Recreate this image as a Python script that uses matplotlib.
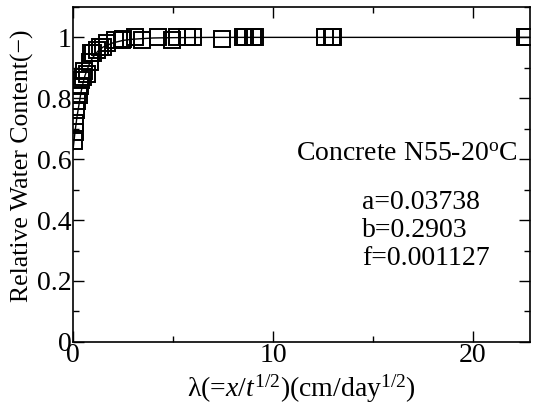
import matplotlib
matplotlib.use('Agg')
from matplotlib import pyplot as plt
from matplotlib.ticker import MultipleLocator, FuncFormatter

# measured points: lambda (cm/day^1/2) and relative water content
lam = [0.05, 0.08, 0.1, 0.15, 0.2, 0.3, 0.35, 0.4, 0.5, 0.55, 0.7, 0.85, 0.9,
       1.0, 1.2, 1.35, 1.5, 1.7, 2.1, 2.45, 2.5, 3.1, 3.45, 4.25, 4.95, 5.2,
       5.7, 6.0, 7.45, 8.5, 8.6, 9.0, 9.1, 12.6, 12.95, 13.0, 22.6, 22.7]
rwc = [0.66, 0.69, 0.72, 0.76, 0.79, 0.81, 0.84, 0.86, 0.87, 0.89, 0.88, 0.92,
       0.95, 0.95, 0.96, 0.97, 0.97, 0.98, 0.99, 0.99, 0.995, 1.0, 0.99, 1.0,
       0.99, 1.0, 1.0, 1.0, 0.995, 1.0, 1.0, 1.0, 1.0, 1.0, 1.0, 1.0, 1.0, 1.0]

# fitted curve
fit_lam = [0.0, 0.1, 0.2, 0.3, 0.4, 0.5, 0.6, 0.8, 1.0, 1.25, 1.5, 2.0, 2.5,
           3.0, 4.0, 5.0, 7.0, 10.0, 15.0, 22.85]
fit_rwc = [0.63, 0.69, 0.74, 0.78, 0.82, 0.85, 0.875, 0.91, 0.935, 0.955,
           0.968, 0.982, 0.99, 0.994, 0.998, 0.999, 1.0, 1.0, 1.0, 1.0]

params = ['a=0.03738', 'b=0.2903', 'f=0.001127']

plt.rcParams['font.family'] = 'Liberation Serif'
plt.rcParams['mathtext.fontset'] = 'custom'
plt.rcParams['mathtext.rm'] = 'Liberation Serif'
plt.rcParams['mathtext.it'] = 'Liberation Serif:italic'
plt.rcParams['font.size'] = 20

fig = plt.figure(figsize=(5.33, 4.07), dpi=100)
ax = fig.add_axes([0.137, 0.160, 0.857, 0.823])

ax.plot(fit_lam, fit_rwc, color='black', linewidth=1.0, zorder=2)
ax.plot(lam, rwc, linestyle='none', marker='s', markersize=11,
        markerfacecolor='none', markeredgecolor='black', markeredgewidth=1.4,
        zorder=3)

ax.set_xlim(0, 22.85)
ax.set_ylim(0, 1.1)
ax.xaxis.set_major_locator(MultipleLocator(10))
ax.xaxis.set_minor_locator(MultipleLocator(5))
ax.yaxis.set_major_locator(MultipleLocator(0.2))
ax.yaxis.set_minor_locator(MultipleLocator(0.1))
ax.yaxis.set_major_formatter(FuncFormatter(lambda v, p: '%g' % round(v, 2)))
ax.tick_params(which='both', direction='in', top=True, right=True, width=1.0)
ax.tick_params(which='major', length=8)
ax.tick_params(which='minor', length=4)
ax.tick_params(axis='y', which='major', pad=1)
ax.tick_params(axis='x', which='major', pad=1)
for s in ax.spines.values():
    s.set_linewidth(1.2)

ax.set_xlabel(r'λ(=$\mathit{x/t}^{\mathit{1/2}}$)(cm/day$^{1/2}$)', labelpad=3)
ax.set_ylabel('Relative Water Content(\u2212)', fontsize=18.5)
ax.yaxis.set_label_coords(-0.085, 0.525)

ax.text(22.25, 0.615, r'Concrete N55-20$^{\rm o}$C', ha='right', va='center')
for i, p in enumerate(params):
    ax.text(14.45, 0.457 - i * 0.091, p, ha='left', va='center')

fig.savefig('out.png', dpi=100)
